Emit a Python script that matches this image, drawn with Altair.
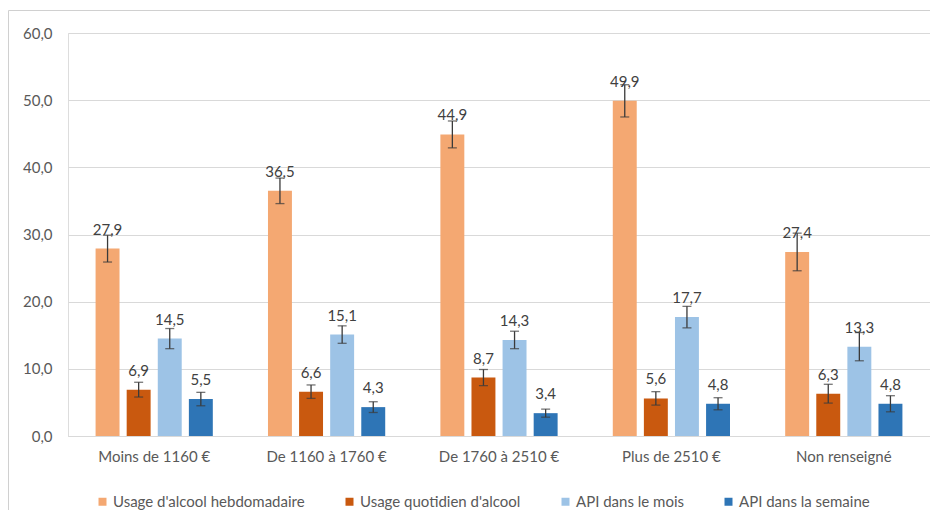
import altair as alt
import pandas as pd

categories = ["Moins de 1160 €", "De 1160 à 1760 €", "De 1760 à 2510 €", "Plus de 2510 €", "Non renseigné"]
series = ["Usage d'alcool hebdomadaire", "Usage quotidien d'alcool", "API dans le mois", "API dans la semaine"]
colors = ["#F4A872", "#C9590F", "#9DC3E6", "#2E75B6"]

hebdo = [27.9, 36.5, 44.9, 49.9, 27.4]
quotidien = [6.9, 6.6, 8.7, 5.6, 6.3]
api_mois = [14.5, 15.1, 14.3, 17.7, 13.3]
api_semaine = [5.5, 4.3, 3.4, 4.8, 4.8]

hebdo_err = [2.0, 1.9, 2.0, 2.4, 2.8]
quotidien_err = [1.1, 1.0, 1.2, 1.0, 1.4]
api_mois_err = [1.5, 1.3, 1.3, 1.6, 2.1]
api_semaine_err = [1.0, 0.8, 0.6, 0.9, 1.2]

rows = []
for s, vals, errs in zip(series, [hebdo, quotidien, api_mois, api_semaine],
                         [hebdo_err, quotidien_err, api_mois_err, api_semaine_err]):
    for c, v, e in zip(categories, vals, errs):
        rows.append({"cat": c, "serie": s, "value": v, "err": e})
df = pd.DataFrame(rows)

FONT = "Lato"
FS = 15

x_enc = alt.X("cat:N", sort=categories, title=None,
              scale=alt.Scale(paddingInner=0.32, paddingOuter=0.16),
              axis=alt.Axis(labelAngle=0, labelFontSize=FS, labelColor="#595959",
                            labelFont=FONT, ticks=False, domain=True, domainColor="#D9D9D9",
                            labelPadding=13, grid=False))
xoff = alt.XOffset("serie:N", sort=series, scale=alt.Scale(paddingInner=0.23, paddingOuter=0))
y_scale = alt.Scale(domain=[0, 60])

base = alt.Chart(df)

bars = base.mark_bar().encode(
    x=x_enc,
    xOffset=xoff,
    y=alt.Y("value:Q", scale=y_scale, title=None,
            axis=alt.Axis(values=[0, 10, 20, 30, 40, 50, 60],
                          labelExpr="replace(format(datum.value, '.1f'), '.', ',')",
                          labelFontSize=FS, labelColor="#595959", labelFont=FONT,
                          ticks=False, domain=False, gridColor="#D9D9D9", gridWidth=1,
                          labelPadding=16)),
    color=alt.Color("serie:N", sort=series,
                    scale=alt.Scale(domain=series, range=colors),
                    legend=alt.Legend(title=None, orient="none", direction="horizontal",
                                      legendX=27, legendY=461, columns=4,
                                      symbolType="square", symbolSize=64,
                                      symbolStrokeWidth=0, labelLimit=400,
                                      labelFontSize=FS, labelColor="#595959", labelFont=FONT,
                                      columnPadding=37, labelOffset=3)),
)

err = base.transform_calculate(
    lo="datum.value - datum.err", hi="datum.value + datum.err"
)

rules = err.mark_rule(color="#3A3A3A", strokeWidth=1.3).encode(
    x=alt.X("cat:N", sort=categories),
    xOffset=xoff,
    y=alt.Y("lo:Q", scale=y_scale),
    y2="hi:Q",
)
caps_lo = err.mark_tick(color="#3A3A3A", size=9, thickness=1.3, orient="horizontal").encode(
    x=alt.X("cat:N", sort=categories),
    xOffset=xoff,
    y=alt.Y("lo:Q", scale=y_scale),
)
caps_hi = err.mark_tick(color="#3A3A3A", size=9, thickness=1.3, orient="horizontal").encode(
    x=alt.X("cat:N", sort=categories),
    xOffset=xoff,
    y=alt.Y("hi:Q", scale=y_scale),
)

texts = base.transform_calculate(
    lab="replace(format(datum.value, '.1f'), '.', ',')"
).mark_text(dy=-14, fontSize=FS, color="#404040", font=FONT, baseline="alphabetic").encode(
    x=alt.X("cat:N", sort=categories),
    xOffset=xoff,
    y=alt.Y("value:Q", scale=y_scale),
    text="lab:N",
)

frame = alt.Chart(alt.Data(values=[{"a": 1}])).mark_rect(
    fill=None, stroke="#D0D0D0", strokeWidth=1
).encode(
    x=alt.value(-59.5), x2=alt.value(1000), y=alt.value(-22.5), y2=alt.value(700)
)

chart = alt.layer(frame, bars, rules, caps_lo, caps_hi, texts).properties(
    width=862, height=403,
    autosize=alt.AutoSizeParams(type="none"),
    padding={"left": 60, "top": 25, "right": 0, "bottom": 74},
).configure_view(stroke=None).configure(background="white")

chart.save("out.html", embed_options={"renderer": "svg", "actions": False})
